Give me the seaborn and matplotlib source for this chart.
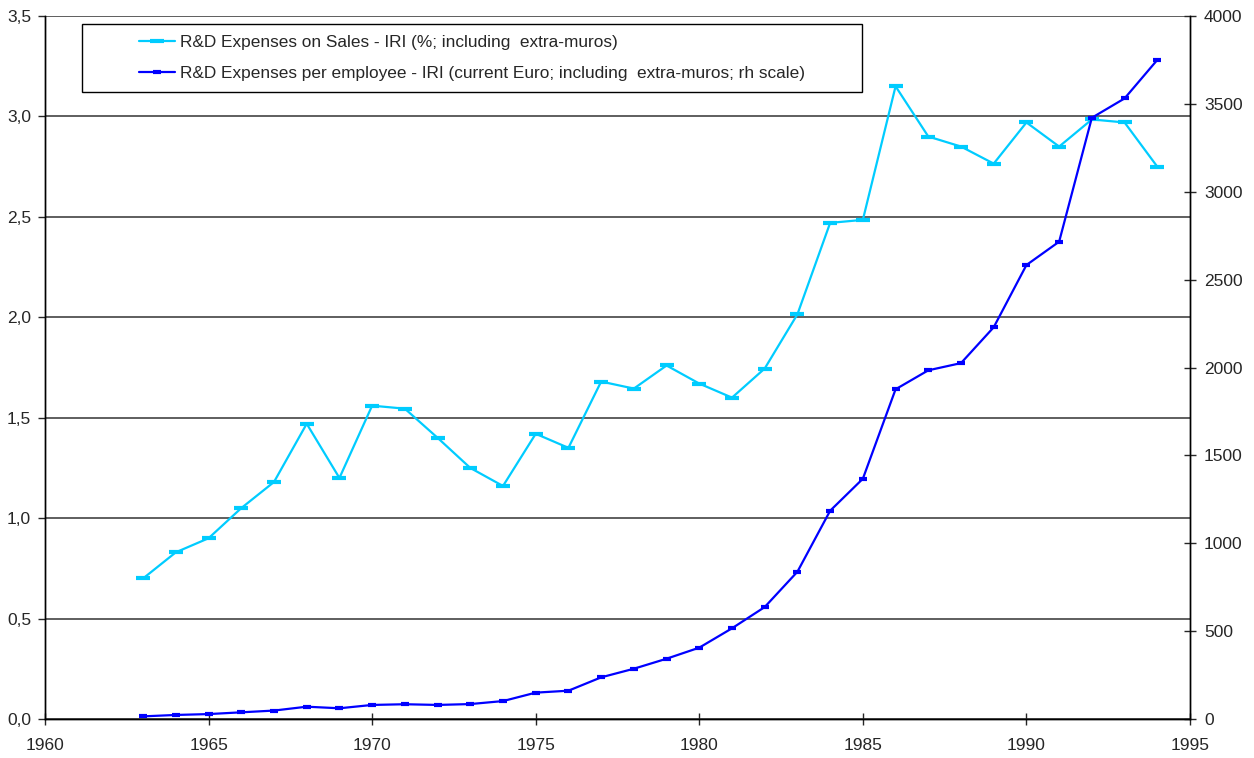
import matplotlib
matplotlib.use("Agg")
import matplotlib.pyplot as plt
from matplotlib.patches import Rectangle
from matplotlib.ticker import FuncFormatter, MultipleLocator
import seaborn as sns
import pandas as pd

years = list(range(1963, 1995))
sales_pct = [0.70, 0.83, 0.90, 1.05, 1.18, 1.47, 1.20, 1.56, 1.545, 1.40, 1.25, 1.16,
             1.42, 1.35, 1.68, 1.645, 1.76, 1.67, 1.60, 1.745, 2.015, 2.47, 2.485, 3.15,
             2.90, 2.85, 2.765, 2.97, 2.85, 2.985, 2.97, 2.75]
per_employee = [15, 23, 28, 38, 48, 70, 61, 80, 84, 80, 85, 102,
                150, 161, 237, 286, 343, 406, 516, 637, 838, 1185, 1367, 1876,
                1984, 2025, 2229, 2583, 2716, 3421, 3531, 3750]
label_sales = "R&D Expenses on Sales - IRI (%; including  extra-muros)"
label_emp = "R&D Expenses per employee - IRI (current Euro; including  extra-muros; rh scale)"

df = pd.DataFrame({"year": years, "sales": sales_pct, "emp": per_employee})

sns.set_style("white")
plt.rcParams["font.family"] = ["Liberation Sans", "DejaVu Sans"]
plt.rcParams["font.size"] = 12

fig = plt.figure(figsize=(12.54, 7.58), dpi=100)
ax = fig.add_axes([45/1254, 1-719/758, 1145/1254, 703/758])
ax2 = ax.twinx()

cyan = "#00CCFF"
blue = "#0000FF"

sns.lineplot(data=df, x="year", y="sales", ax=ax, color=cyan, linewidth=1.6,
             marker="_", markersize=10, markeredgewidth=3, markeredgecolor=cyan)
sns.lineplot(data=df, x="year", y="emp", ax=ax2, color=blue, linewidth=1.6,
             marker="_", markersize=6, markeredgewidth=3, markeredgecolor=blue)

ax.set_xlim(1960, 1995)
ax.set_ylim(0, 3.5)
ax2.set_ylim(0, 4000)
ax.yaxis.set_major_locator(MultipleLocator(0.5))
ax2.yaxis.set_major_locator(MultipleLocator(500))
ax.xaxis.set_major_locator(MultipleLocator(5))
ax.yaxis.set_major_formatter(FuncFormatter(lambda v, p: f"{v:.1f}".replace(".", ",")))
ax.xaxis.set_major_formatter(FuncFormatter(lambda v, p: f"{int(v)}"))

ax.grid(axis="y", color="#333333", linewidth=1.1)
ax.grid(axis="x", visible=False)
ax2.grid(False)
ax.set_xlabel("")
ax.set_ylabel("")
ax2.set_ylabel("")

for a in (ax, ax2):
    for s in a.spines.values():
        s.set_color("black")
        s.set_linewidth(1.0)
    a.spines["top"].set_visible(False)

ax.tick_params(axis="y", direction="out", length=5, width=1, pad=5, labelsize=12.5, left=True)
ax.tick_params(axis="x", direction="inout", length=8, width=1, pad=10, labelsize=12.5, bottom=True)
ax2.tick_params(axis="y", direction="inout", length=8, width=1, pad=6, labelsize=12.5, right=True)

# legend box
rect = Rectangle((37/1145, 1-(92-16)/703), 780/1145, 68/703, transform=ax2.transAxes,
                 facecolor="white", edgecolor="black", linewidth=1.0, zorder=5)
ax2.add_patch(rect)
handles = [ax.lines[0], ax2.lines[0]]
leg = ax2.legend(handles, [label_sales, label_emp], loc="center",
                 bbox_to_anchor=(0.3729, 0.9403), frameon=False, fontsize=12.4,
                 handlelength=2.1, handletextpad=0.3, labelspacing=0.95)
leg.set_zorder(6)

fig.savefig("out.png", dpi=100)
